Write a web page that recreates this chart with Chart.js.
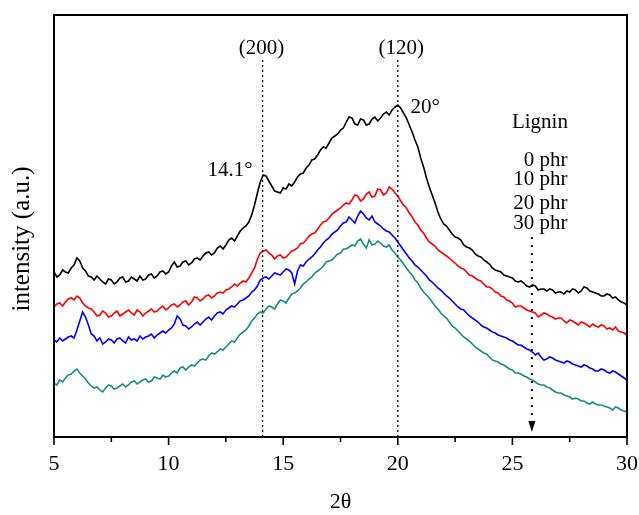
<!DOCTYPE html>
<html><head><meta charset="utf-8">
<script src="https://cdn.jsdelivr.net/npm/chart.js@4/dist/chart.umd.min.js"></script>
<style>html,body{margin:0;padding:0;background:#fff}#wrap{width:639px;height:515px}</style>
</head><body><div id="wrap"><canvas id="c" width="639" height="515"></canvas></div>
<script>
// 2θ sampling positions (degrees)
const twoTheta = [5,5.125,5.25,5.375,5.5,5.625,5.75,5.875,6,6.125,6.25,6.375,6.5,6.625,6.75,6.875,7,7.125,7.25,7.375,7.5,7.625,7.75,7.875,8,8.125,8.25,8.375,8.5,8.625,8.75,8.875,9,9.125,9.25,9.375,9.5,9.625,9.75,9.875,10,10.125,10.25,10.375,10.5,10.625,10.75,10.875,11,11.125,11.25,11.375,11.5,11.625,11.75,11.875,12,12.125,12.25,12.375,12.5,12.625,12.75,12.875,13,13.125,13.25,13.375,13.5,13.625,13.75,13.875,14,14.125,14.25,14.375,14.5,14.625,14.75,14.875,15,15.125,15.25,15.375,15.5,15.625,15.75,15.875,16,16.125,16.25,16.375,16.5,16.625,16.75,16.875,17,17.125,17.25,17.375,17.5,17.625,17.75,17.875,18,18.125,18.25,18.375,18.5,18.625,18.75,18.875,19,19.125,19.25,19.375,19.5,19.625,19.75,19.875,20,20.125,20.25,20.375,20.5,20.625,20.75,20.875,21,21.125,21.25,21.375,21.5,21.625,21.75,21.875,22,22.125,22.25,22.375,22.5,22.625,22.75,22.875,23,23.125,23.25,23.375,23.5,23.625,23.75,23.875,24,24.125,24.25,24.375,24.5,24.625,24.75,24.875,25,25.125,25.25,25.375,25.5,25.625,25.75,25.875,26,26.125,26.25,26.375,26.5,26.625,26.75,26.875,27,27.125,27.25,27.375,27.5,27.625,27.75,27.875,28,28.125,28.25,28.375,28.5,28.625,28.75,28.875,29,29.125,29.25,29.375,29.5,29.625,29.75,29.875,30];
const seriesNames = ['0 phr','10 phr','20 phr','30 phr'];
const lignin0 = [165,160,162,167,165,164,169,172,179,176,169,166,161,160,157,161,158,155,153,158,157,153,155,159,160,155,156,160,158,156,161,157,158,162,163,159,161,165,166,163,165,171,175,170,171,175,176,172,174,178,179,177,181,184,185,182,184,189,191,188,192,197,199,196,201,206,209,211,215,222,232,244,255,262,261,256,251,246,245,244,249,248,253,251,255,260,263,264,269,272,277,278,282,287,290,289,294,299,301,303,307,309,315,320,319,313,312,318,317,312,313,318,320,316,319,323,325,322,327,330,332,329,324,319,312,305,297,290,279,270,259,250,242,234,225,218,213,211,207,203,200,199,197,192,190,189,187,183,181,180,177,175,173,169,167,166,165,162,161,160,159,156,155,156,154,151,150,152,151,147,148,148,146,148,147,144,145,145,143,146,145,148,147,144,146,150,149,146,145,144,143,141,141,143,142,139,140,137,135,134,132];
const lignin10 = [130,133,134,131,135,138,139,137,141,139,134,131,129,128,125,121,122,126,124,120,121,124,126,121,123,125,127,124,122,127,125,121,124,126,128,125,126,129,131,127,129,132,133,130,132,135,136,132,135,140,139,136,138,141,142,139,141,144,145,144,147,148,150,153,151,154,156,155,159,164,169,178,184,186,187,184,182,178,181,182,179,180,183,186,187,189,193,194,197,201,203,204,208,212,215,216,219,223,225,227,229,232,234,233,237,242,241,236,238,243,245,240,241,248,247,242,244,250,248,244,241,236,232,229,224,220,215,212,207,204,199,195,193,191,187,185,183,181,179,176,174,171,169,168,165,162,161,159,157,156,153,150,150,148,145,144,141,140,137,136,134,130,131,131,129,127,126,125,124,120,122,124,123,121,120,118,119,119,116,114,117,116,114,112,115,114,112,110,113,111,110,112,111,108,109,107,110,106,105,104,102];
const lignin20 = [97,95,99,96,98,100,101,99,107,116,125,120,112,103,101,96,99,93,95,98,97,94,98,99,96,94,100,97,98,96,101,98,100,101,103,99,102,104,106,104,107,109,113,121,118,112,111,108,110,113,115,112,115,118,120,117,121,124,125,123,127,129,131,130,133,136,137,139,141,145,147,151,157,159,160,158,161,164,163,162,165,168,167,164,153,166,172,171,175,178,180,183,187,190,194,197,199,203,205,207,211,214,215,220,217,214,221,226,223,219,217,221,215,213,211,208,206,205,202,199,195,191,187,183,179,176,172,170,167,164,161,157,155,152,149,147,144,141,139,136,133,130,128,127,124,121,119,117,115,112,110,109,107,105,104,102,101,100,99,97,96,94,92,92,90,88,87,85,82,84,80,77,78,80,79,77,76,75,74,76,75,73,72,71,70,72,71,69,68,66,66,68,67,65,64,66,65,63,61,59,57];
const lignin30 = [54,52,57,55,59,62,63,66,68,64,61,58,54,51,49,50,47,45,49,52,51,48,49,51,53,50,52,55,56,53,55,57,58,55,56,60,59,58,62,60,61,64,66,64,69,70,67,70,72,71,74,77,78,77,81,84,83,85,88,87,90,93,96,95,99,103,105,107,111,116,119,123,125,124,128,131,130,128,133,137,136,134,139,143,144,146,149,153,155,158,160,164,166,168,171,175,176,177,180,183,184,188,188,190,192,191,196,198,193,189,197,192,193,196,194,191,190,192,187,184,180,177,173,169,165,162,157,154,149,145,142,139,135,131,128,124,121,119,115,111,109,106,103,100,98,96,93,90,88,86,84,83,80,77,76,75,73,72,70,68,67,64,64,63,61,60,58,57,55,53,52,52,50,49,47,45,44,44,42,41,40,38,39,38,36,36,34,33,35,33,32,32,31,30,29,27,30,29,27,26,25];
const xTickLabels = [5,10,15,20,25,30];
const xMinorTicks = [7.5,12.5,17.5,22.5,27.5];
const peakPositions = [14.1, 20];
const peakPlanes = ['(200)','(120)'];
const colors = ['#000000','#ff0000','#0000ff','#178b8b'];

const SERIF = '"Liberation Serif","DejaVu Serif",serif';
const allSeries = [lignin0, lignin10, lignin20, lignin30];
allSeries.forEach((s,i)=>{ if(s.length!==twoTheta.length) throw new Error('length mismatch series '+i+': '+s.length+' vs '+twoTheta.length); });

const datasets = allSeries.map((s,i)=>({
  label: seriesNames[i],
  data: twoTheta.map((x,j)=>({x:x,y:s[j]})),
  borderColor: colors[i], borderWidth: 1.6, pointRadius: 0, tension: 0, fill:false
}));

const decor = {
  id:'decor',
  afterDatasetsDraw(chart){
    const {ctx, chartArea:a, scales:{x,y}} = chart;
    ctx.save();
    ctx.strokeStyle='#000'; ctx.lineWidth=2;
    ctx.strokeRect(a.left, a.top, a.right-a.left, a.bottom-a.top);
    ctx.lineWidth=1.6;
    xTickLabels.forEach(v=>{const px=x.getPixelForValue(v); ctx.beginPath(); ctx.moveTo(px,a.bottom); ctx.lineTo(px,a.bottom+8); ctx.stroke();});
    xMinorTicks.forEach(v=>{const px=x.getPixelForValue(v); ctx.beginPath(); ctx.moveTo(px,a.bottom); ctx.lineTo(px,a.bottom+5); ctx.stroke();});
    // dotted peak lines
    ctx.setLineDash([2,3]); ctx.lineWidth=1.3;
    peakPositions.forEach(p=>{
      const px=x.getPixelForValue(p);
      ctx.beginPath(); ctx.moveTo(px,y.getPixelForValue(377)); ctx.lineTo(px,a.bottom); ctx.stroke();
    });
    // arrow
    ctx.lineWidth=2; ctx.setLineDash([2,6]);
    const ax=x.getPixelForValue(25.85);
    const ayTop=y.getPixelForValue(200), ayBot=y.getPixelForValue(5);
    ctx.beginPath(); ctx.moveTo(ax,ayTop); ctx.lineTo(ax,ayBot-8); ctx.stroke();
    ctx.setLineDash([]);
    ctx.fillStyle='#000';
    ctx.beginPath(); ctx.moveTo(ax-3.5,ayBot-11); ctx.lineTo(ax+3.5,ayBot-11); ctx.lineTo(ax,ayBot); ctx.closePath(); ctx.fill();
    // texts
    ctx.fillStyle='#000'; ctx.textBaseline='middle';
    ctx.font='21px '+SERIF; ctx.textAlign='center';
    ctx.fillText(peakPlanes[0], x.getPixelForValue(14.05), y.getPixelForValue(389));
    ctx.fillText(peakPlanes[1], x.getPixelForValue(20.15), y.getPixelForValue(389));
    ctx.fillText('14.1°', x.getPixelForValue(12.68), y.getPixelForValue(267));
    ctx.fillText('20°', x.getPixelForValue(21.19), y.getPixelForValue(330));
    ctx.fillText('Lignin', x.getPixelForValue(26.2), y.getPixelForValue(315));
    ctx.textAlign='right';
    const ys=[277,258,234,214];
    seriesNames.forEach((n,i)=>ctx.fillText(n, x.getPixelForValue(27.4), y.getPixelForValue(ys[i])));
    // y axis title
    ctx.save();
    ctx.translate(22, 239); ctx.rotate(-Math.PI/2);
    ctx.font='25px '+SERIF; ctx.textAlign='center'; ctx.textBaseline='middle';
    ctx.fillText('intensity (a.u.)',0,0);
    ctx.restore();
    ctx.restore();
  }
};

new Chart(document.getElementById('c'),{
  type:'line',
  data:{datasets},
  options:{
    responsive:false, animation:false,
    layout:{padding:{top:15,right:12,left:0,bottom:0}},
    plugins:{legend:{display:false},tooltip:{enabled:false}},
    scales:{
      x:{type:'linear',min:5,max:30,
        afterFit(s){s.height=78; s.paddingLeft=0; s.paddingRight=0;},
        afterBuildTicks(s){s.ticks=xTickLabels.map(v=>({value:v}));},
        grid:{display:true,drawOnChartArea:false,drawTicks:true,tickLength:8,color:'rgba(0,0,0,0)'},
        border:{display:false},
        ticks:{color:'#000',font:{family:SERIF,size:22},padding:6,maxRotation:0},
        title:{display:true,text:'2θ',color:'#000',font:{family:SERIF,size:22},padding:{top:0,bottom:0}}
      },
      y:{min:0,max:422,
        afterFit(s){s.width=54;},
        grid:{display:false},border:{display:false},
        ticks:{display:false},
        title:{display:false}
      }
    }
  },
  plugins:[decor]
});
</script></body></html>
